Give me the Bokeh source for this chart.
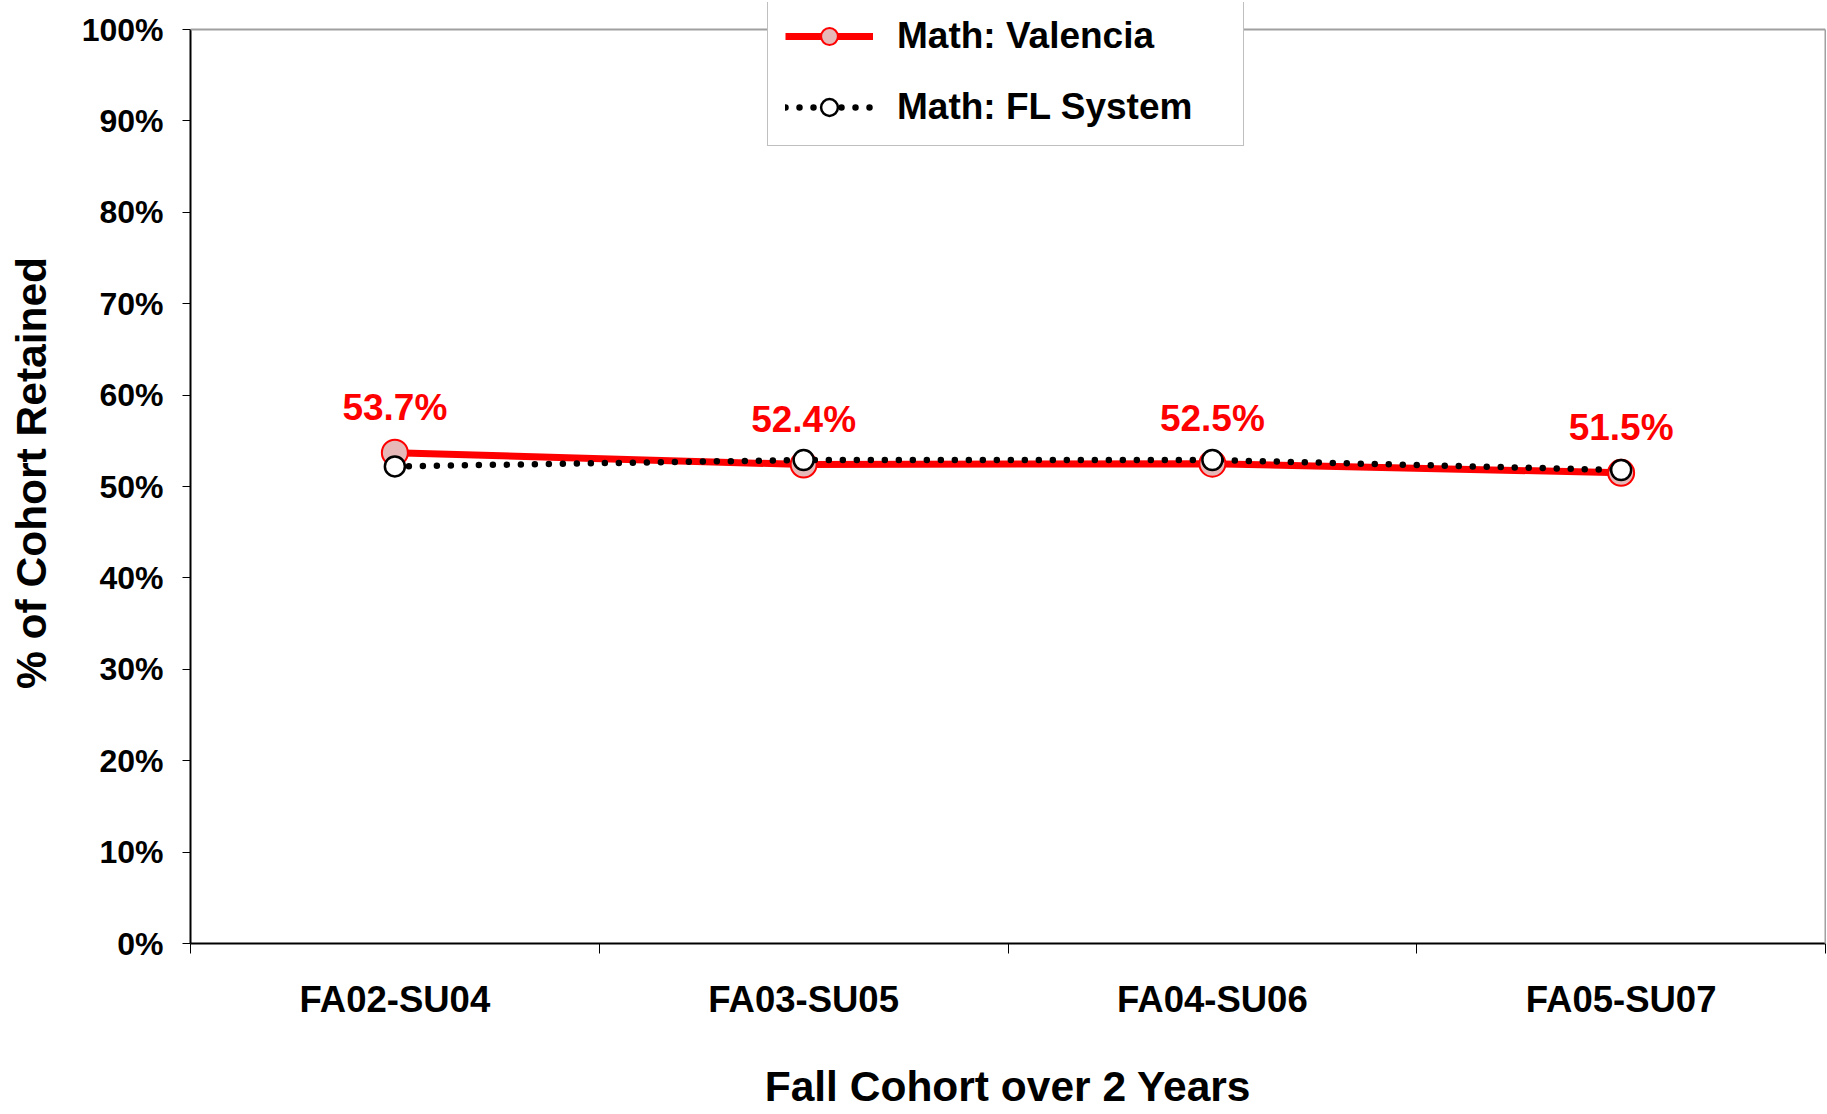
from bokeh.plotting import figure
from bokeh.models import (Range1d, FixedTicker, Legend, LegendItem, ColumnDataSource,
                          LinearAxis, Span)
from bokeh.embed import file_html
from bokeh.resources import INLINE
from bokeh.core.properties import value

# ---- data ----
categories = ["FA02-SU04", "FA03-SU05", "FA04-SU06", "FA05-SU07"]
valencia = [53.7, 52.4, 52.5, 51.5]
fl_system = [52.2, 52.9, 52.9, 51.8]
y_ticks = [0, 10, 20, 30, 40, 50, 60, 70, 80, 90, 100]
y_tick_labels = ["0%", "10%", "20%", "30%", "40%", "50%", "60%", "70%", "80%", "90%", "100%"]
series_names = ["Math: Valencia", "Math: FL System"]
x_title = "Fall Cohort over 2 Years"
y_title = "% of Cohort Retained"

FONT = "Liberation Sans"
GRAY = "#a0a0a0"

xs = [i + 0.5 for i in range(len(categories))]
bounds = list(range(len(categories) + 1))

# frame: page y 2..943, value 100 sits at page y 29
y_top = 100 * (943 - 2) / (943 - 29)

p = figure(width=1826, height=1113, output_backend="svg", toolbar_location=None,
           x_range=Range1d(0, len(categories)), y_range=Range1d(0, y_top),
           min_border_left=190, min_border_right=1, min_border_top=2,
           min_border_bottom=170)
p.background_fill_color = "white"
p.border_fill_color = "white"
p.outline_line_color = None
p.xgrid.visible = False
p.ygrid.visible = False

# top border of the plot area at 100%
p.add_layout(Span(location=100, dimension="width", line_color=GRAY, line_width=2))

v_src = ColumnDataSource(dict(x=xs, y=valencia, label=[f"{v:.1f}%" for v in valencia]))
f_src = ColumnDataSource(dict(x=xs, y=fl_system))

v_line = p.line("x", "y", source=v_src, line_color="red", line_width=7)
v_pts = p.scatter("x", "y", source=v_src, size=26, fill_color="#e6b9b8",
                  line_color="red", line_width=2)
f_line = p.line("x", "y", source=f_src, line_color="black", line_width=6.5,
                line_dash="0 14", line_cap="round")
f_pts = p.scatter("x", "y", source=f_src, size=20, fill_color="white",
                  line_color="black", line_width=2.5)

p.text("x", "y", text="label", source=v_src, text_color="red",
       text_font=value(FONT), text_font_style="bold", text_font_size="37px",
       text_align="center", text_baseline="middle", y_offset=-45)

# right border as an axis without ticks
ra = LinearAxis(ticker=FixedTicker(ticks=[]), bounds=(0, 100))
ra.axis_line_color = GRAY
ra.axis_line_width = 2
ra.major_tick_out = 0
ra.major_tick_in = 0
ra.minor_tick_out = 0
ra.minor_tick_in = 0
ra.major_label_standoff = 0
p.add_layout(ra, "right")

legend = Legend(items=[LegendItem(label=series_names[0], renderers=[v_line, v_pts]),
                       LegendItem(label=series_names[1], renderers=[f_line, f_pts])],
                location=(577, 797))
legend.border_line_color = "#808080"
legend.border_line_width = 1.5
legend.background_fill_color = "white"
legend.background_fill_alpha = 1
legend.padding = 17
legend.spacing = 29
legend.margin = 0
legend.label_height = 42
legend.glyph_height = 42
legend.glyph_width = 88
legend.label_standoff = 24
legend.label_width = 329
legend.label_text_font = FONT
legend.label_text_font_style = "bold"
legend.label_text_font_size = "37px"
legend.label_text_color = "black"
legend.label_text_baseline = "middle"
p.add_layout(legend, "center")

# y axis
ya = p.yaxis[0]
ya.bounds = (0, 100)
ya.ticker = FixedTicker(ticks=y_ticks)
ya.major_label_overrides = dict(zip(y_ticks, y_tick_labels))
ya.major_label_text_font = FONT
ya.major_label_text_font_style = "bold"
ya.major_label_text_font_size = "32px"
ya.major_label_text_color = "black"
ya.major_label_standoff = 19
ya.major_tick_out = 8
ya.major_tick_in = 0
ya.minor_tick_out = 0
ya.minor_tick_in = 0
ya.axis_line_width = 2
ya.axis_line_color = "black"
ya.major_tick_line_color = "black"
ya.axis_label = y_title
ya.axis_label_text_font = FONT
ya.axis_label_text_font_style = "bold"
ya.axis_label_text_font_size = "42.5px"
ya.axis_label_text_color = "black"
ya.axis_label_standoff = 24

# x axis
xa = p.xaxis[0]
xa.ticker = FixedTicker(ticks=xs, minor_ticks=bounds)
xa.major_label_overrides = dict(zip(xs, categories))
xa.major_label_text_font = FONT
xa.major_label_text_font_style = "bold"
xa.major_label_text_font_size = "36.5px"
xa.major_label_text_color = "black"
xa.major_label_standoff = 25
xa.major_tick_out = 0
xa.major_tick_in = 0
xa.minor_tick_out = 10
xa.minor_tick_in = 0
xa.minor_tick_line_color = "black"
xa.minor_tick_line_width = 1
xa.axis_line_width = 2
xa.axis_line_color = "black"
xa.axis_label = x_title
xa.axis_label_text_font = FONT
xa.axis_label_text_font_style = "bold"
xa.axis_label_text_font_size = "42.5px"
xa.axis_label_text_color = "black"
xa.axis_label_standoff = 40

open("out.html", "w").write(file_html(p, INLINE))
